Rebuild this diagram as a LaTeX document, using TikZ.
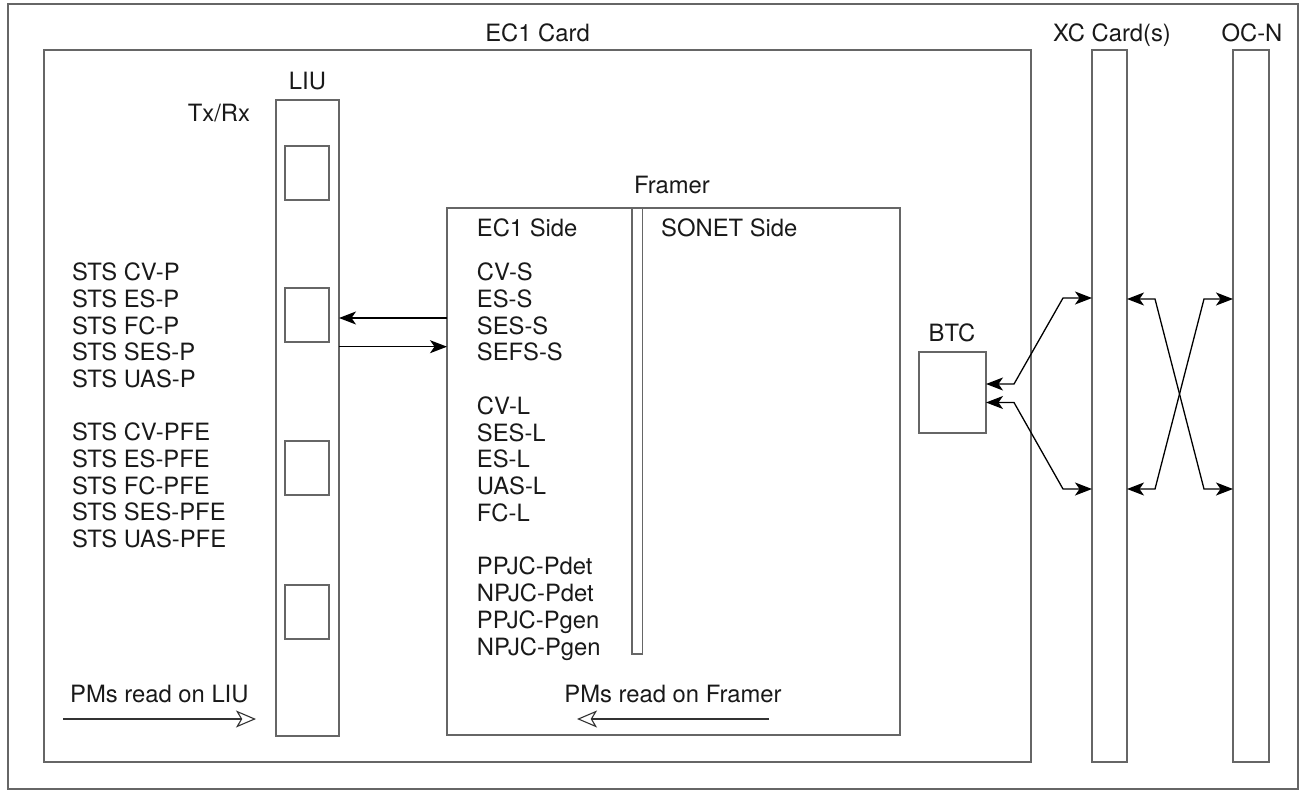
\documentclass[tikz,border=0pt]{standalone}
\usepackage{fontspec}
\setmainfont{TeX Gyre Heros}
\usetikzlibrary{arrows.meta,calc}

\tikzset{
  card/.style={draw=black!60, line width=1.1pt, inner sep=0pt, outer sep=0pt, anchor=north west},
  lbl/.style={inner sep=0pt, anchor=base, text=black!90, font=\fontsize{23.8}{26.7}\selectfont},
  lst/.style={lbl, anchor=base west},
  link/.style={line width=1.3pt, {Stealth[length=17pt,width=13pt,inset=4.5pt]}-{Stealth[length=17pt,width=13pt,inset=4.5pt]}},
  onelink/.style={line width=1.3pt, -{Stealth[length=17pt,width=13pt,inset=4.5pt]}},
  pmread/.style={line width=1.1pt, draw=black!80, -{Stealth[open,length=20pt,width=17pt,inset=5pt,fill=white]}}
}

\begin{document}
\begin{tikzpicture}[x=1pt,y=-1pt]
\useasboundingbox (0,0) rectangle (1301,792);

% frames and cards
\node[card, minimum width=1290, minimum height=785] (shelf) at (8,4) {};
\node[card, minimum width=987, minimum height=712] (ec1) at (44,50) {};
\node[card, minimum width=63, minimum height=636] (liu) at (276,100) {};
\foreach \k/\y in {1/146,2/288,3/441,4/585}
  \node[card, minimum width=44, minimum height=54] (port\k) at (285,\y) {};
\node[card, minimum width=453, minimum height=527] (framer) at (447,208) {};
\node[card, minimum width=10.7, minimum height=446] (bar) at (632,208) {};
\node[card, minimum width=67, minimum height=81] (btc) at (919,352) {};
\node[card, minimum width=35, minimum height=712] (xc) at (1092,50) {};
\node[card, minimum width=36, minimum height=712] (ocn) at (1233,50) {};

% titles
\node[lbl] (ec1lbl) at (537.5,42) {EC1 Card};
\node[lbl] (xclbl) at (1112,42) {XC Card(s)};
\node[lbl] (ocnlbl) at (1252,42) {OC-N};
\node[lbl] (liulbl) at (307.5,89.3) {LIU};
\node[lbl] (txrx) at (219,121.7) {Tx/Rx};
\node[lbl] (framerlbl) at (672,193) {Framer};
\node[lbl] (btclbl) at (952,341) {BTC};
\node[lst] (ec1side) at (476.7,236) {EC1 Side};
\node[lst] (sonet) at (661,236) {SONET Side};

% PM lists
\foreach \k/\t in {0/STS CV-P,1/STS ES-P,2/STS FC-P,3/STS SES-P,4/STS UAS-P,
                   6/STS CV-PFE,7/STS ES-PFE,8/STS FC-PFE,9/STS SES-PFE,10/STS UAS-PFE}
  \node[lst] (sts\k) at (72,280.7+26.67*\k) {\t};
\foreach \k/\t in {0/CV-S,1/ES-S,2/SES-S,3/SEFS-S,5/CV-L,6/SES-L,7/ES-L,8/UAS-L,9/FC-L,
                   11/PPJC-Pdet,12/NPJC-Pdet,13/PPJC-Pgen,14/NPJC-Pgen}
  \node[lst] (fr\k) at (476.7,280.7+26.74*\k) {\t};

% LIU <-> Framer
\draw[onelink] (framer.west |- 0,318) -- (liu.east |- 0,318);
\draw[onelink] (liu.east |- 0,346.7) -- (framer.west |- 0,346.7);

% BTC <-> XC
\coordinate (bt1) at (1014,384);
\coordinate (bt2) at (1014,402.5);
\draw[link] (btc.east |- bt1) -- (bt1) -- (1063,298) -- (xc.west |- 0,298);
\draw[link] (btc.east |- bt2) -- (bt2) -- (1063,489) -- (xc.west |- 0,489);

% XC <-> OC-N, crossed
\draw[link] (xc.east |- 0,299) -- (1155,299) -- (1204,489) -- (ocn.west |- 0,489);
\draw[link] (xc.east |- 0,489) -- (1155,489) -- (1204,299) -- (ocn.west |- 0,299);

% where the PMs are read
\node[lst] (pmliu) at (70,702.7) {PMs read on LIU};
\node[lbl] (pmfr) at (673,702.7) {PMs read on Framer};
\coordinate (pl0) at (63,719);
\coordinate (pl1) at (256,719);
\coordinate (pf0) at (769,719);
\coordinate (pf1) at (577,719);
\draw[pmread] (pl0) -- (pl1);
\draw[pmread] (pf0) -- (pf1);
\end{tikzpicture}
\end{document}
